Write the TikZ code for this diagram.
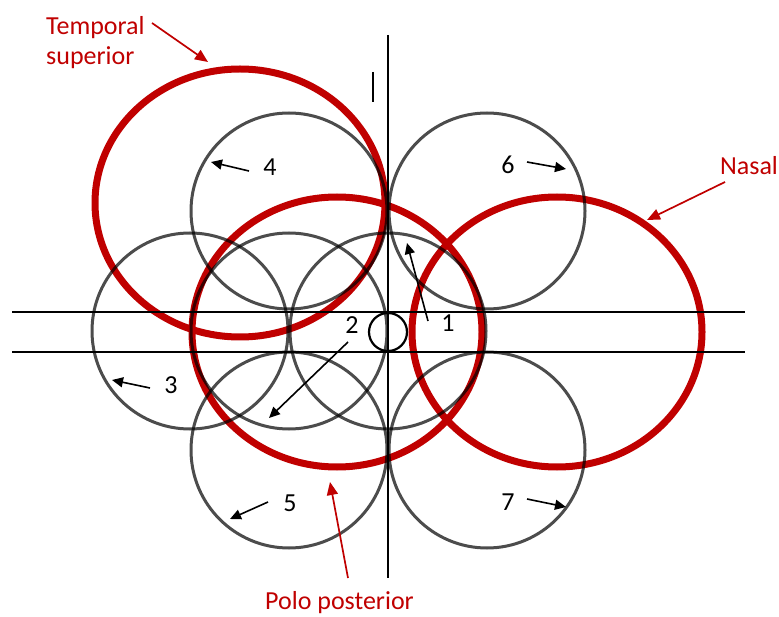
\documentclass[tikz,border=0pt]{standalone}
\usepackage{fontspec}
\setmainfont{Carlito}
\usetikzlibrary{arrows.meta}
\definecolor{darkred}{HTML}{C00000}
\begin{document}
\begin{tikzpicture}[x=1pt,y=-1pt,
  redring/.style={draw=darkred,line width=7pt},
  grayring/.style={draw=black,draw opacity=0.7,line width=3pt},
  axisline/.style={draw=black,line width=1.9pt},
  numlbl/.style={font=\fontsize{26}{30}\selectfont,text=black,inner sep=0pt},
  redlbl/.style={font=\fontsize{26}{30}\selectfont,text=darkred,inner sep=0pt,align=left},
  numarrow/.style={draw=black,line width=1.6pt,-{Triangle[length=11pt,width=10pt]}},
  redarrow/.style={draw=darkred,line width=1.7pt,-{Triangle[length=13pt,width=11pt]}}]
\useasboundingbox[fill=white] (0,0) rectangle (779,617);

% red rings
\draw[redring] (240,203) ellipse [x radius=145, y radius=134];
\draw[redring] (337,332) ellipse [x radius=145, y radius=135];
\draw[redring] (557,332) ellipse [x radius=145, y radius=135];

% gray circles
\foreach \cx/\cy in {289/211, 487/211, 190/331, 289/331, 388/331, 289/450, 487/450}
  \draw[grayring] (\cx,\cy) circle [radius=98];

% axes
\draw[axisline] (12,312) -- (745,312);
\draw[axisline] (12,352) -- (745,352);
\draw[axisline] (388,35) -- (388,578);
\draw[axisline] (373,72) -- (373,102);
\draw[black,line width=2.2pt] (388,332) circle [radius=19];

% number labels
\node[numlbl] (n1) at (448,323) {1};
\node[numlbl] (n2) at (352,325) {2};
\node[numlbl] (n3) at (171,385) {3};
\node[numlbl] (n4) at (270,167) {4};
\node[numlbl] (n5) at (290,503) {5};
\node[numlbl] (n6) at (508,165) {6};
\node[numlbl] (n7) at (508,502) {7};

\coordinate (t1) at (428,321); \coordinate (h1) at (407,243);
\coordinate (t2) at (348,342); \coordinate (h2) at (269,418);
\coordinate (t3) at (150,388); \coordinate (h3) at (112,380);
\coordinate (t4) at (249,171); \coordinate (h4) at (211,162);
\coordinate (t5) at (268,502); \coordinate (h5) at (230,519);
\coordinate (t6) at (527,162); \coordinate (h6) at (566,169);
\coordinate (t7) at (527,499); \coordinate (h7) at (566,507);
\foreach \k in {1,...,7} \draw[numarrow] (t\k) -- (h\k);

% red labels
\node[redlbl,anchor=base west] (ts1) at (46,35) {Temporal};
\node[redlbl,anchor=base west] (ts2) at (46,65) {superior};
\node[redlbl] (nas) at (749,166) {Nasal};
\node[redlbl,anchor=base west] (pp) at (265,609) {Polo posterior};

\coordinate (tsT) at (152,23); \coordinate (tsH) at (208,62);
\coordinate (nasT) at (725,182); \coordinate (nasH) at (647,220);
\coordinate (ppT) at (348,578); \coordinate (ppH) at (330,482);
\draw[redarrow] (tsT) -- (tsH);
\draw[redarrow] (nasT) -- (nasH);
\draw[redarrow] (ppT) -- (ppH);
\end{tikzpicture}
\end{document}
